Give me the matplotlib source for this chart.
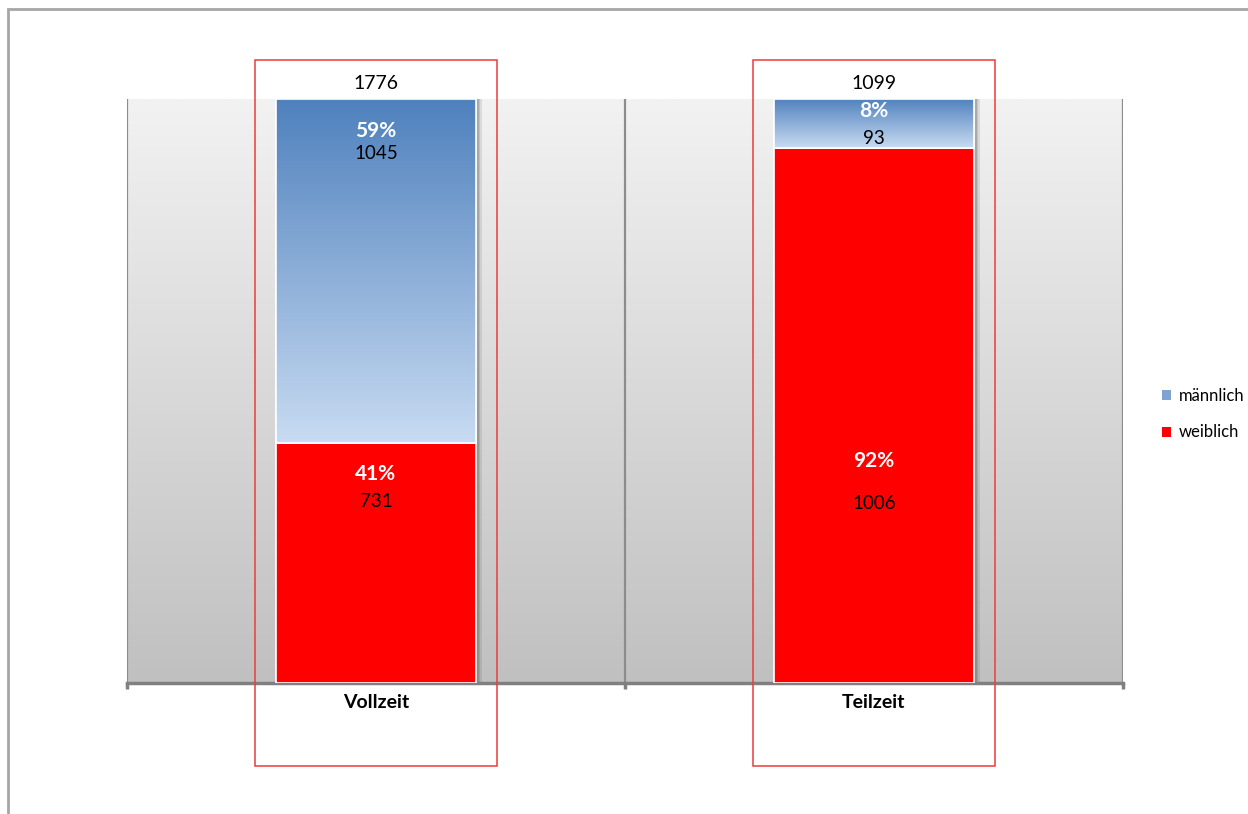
import numpy as np
import matplotlib.pyplot as plt
from matplotlib.patches import Rectangle, Patch
from matplotlib.colors import LinearSegmentedColormap

categories = ["Vollzeit", "Teilzeit"]
weiblich = [731, 1006]
maennlich = [1045, 93]
series_names = ["männlich", "weiblich"]

# label heights (share of the bar) for percent / count texts
pct_pos_m = [0.945, 0.979]
cnt_pos_m = [0.906, 0.932]
pct_pos_w = [0.358, 0.380]
cnt_pos_w = [0.310, 0.308]

plt.rcParams['font.family'] = ['Lato', 'DejaVu Sans']

totals = [w + m for w, m in zip(weiblich, maennlich)]
share_w = [w / t for w, t in zip(weiblich, totals)]
share_m = [m / t for m, t in zip(maennlich, totals)]

fig = plt.figure(figsize=(12.48, 8.14), dpi=100)
ax = fig.add_axes([127 / 1248, 1 - 683 / 814, 996 / 1248, 584 / 814])

x = np.arange(len(categories))
ax.set_xlim(-0.5, len(categories) - 0.5)
ax.set_ylim(0, 1)

# grey gradient background of the plot area
bg = np.linspace(0, 1, 256).reshape(-1, 1)
bg_cmap = LinearSegmentedColormap.from_list("bg", ["#c0c0c0", "#f2f2f2"])
ax.imshow(bg, cmap=bg_cmap, aspect="auto", origin="lower",
          extent=[-0.5, len(categories) - 0.5, 0, 1], zorder=0)

for xv in [-0.5, 0.5, 1.5]:
    ax.axvline(xv, color="#8c8c8c", lw=1.6, zorder=1)

width = 0.4
px = 1 / 498  # one pixel in x data units

# soft shadow right of each bar
for xi in x:
    for k, a in enumerate([0.55, 0.4, 0.25, 0.12]):
        ax.add_patch(Rectangle((xi + width / 2 + k * 1.5 * px, 0), 1.5 * px, 1,
                               color="#404040", alpha=a, lw=0, zorder=2))

bars_w = ax.bar(x, share_w, width, color="#ff0000", edgecolor="white",
                linewidth=1.2, zorder=3, label="weiblich")
bars_m = ax.bar(x, share_m, width, bottom=share_w, color="#7fa3d3",
                edgecolor="white", linewidth=1.2, zorder=3, label="männlich")

blue_cmap = LinearSegmentedColormap.from_list("blue", ["#c8dbf2", "#4f81bd"])
grad = np.linspace(0, 1, 256).reshape(-1, 1)
for b in bars_m:
    x0, y0 = b.get_x(), b.get_y()
    im = ax.imshow(grad, cmap=blue_cmap, aspect="auto", origin="lower",
                   extent=[x0, x0 + b.get_width(), y0, y0 + b.get_height()],
                   zorder=3.5)
    im.set_clip_path(b)
    ax.add_patch(Rectangle((x0, y0), b.get_width(), b.get_height(), fill=False,
                           edgecolor="white", lw=1.2, zorder=3.6))

for i in range(len(categories)):
    ax.text(x[i], pct_pos_m[i], f"{round(share_m[i] * 100)}%", ha="center",
            va="center", color="white", fontsize=15, fontweight="bold", zorder=5)
    ax.text(x[i], cnt_pos_m[i], str(maennlich[i]), ha="center", va="center",
            fontsize=13.5, zorder=5)
    ax.text(x[i], pct_pos_w[i], f"{round(share_w[i] * 100)}%", ha="center",
            va="center", color="white", fontsize=15, fontweight="bold", zorder=5)
    ax.text(x[i], cnt_pos_w[i], str(weiblich[i]), ha="center", va="center",
            fontsize=13.5, zorder=5)
    ax.text(x[i], 1.027, str(totals[i]), ha="center", va="center",
            fontsize=14, zorder=5)
    # red frame around each column
    ax.add_patch(Rectangle((x[i] - 0.243, -0.142), 0.486, 1.209, fill=False,
                           edgecolor="#ee3b3b", lw=1.1, clip_on=False, zorder=6))

for side in ["top", "right", "left"]:
    ax.spines[side].set_visible(False)
ax.spines["bottom"].set_color("#808080")
ax.spines["bottom"].set_linewidth(2.5)
ax.set_yticks([])
ax.set_xticks([-0.5, 0.5, 1.5])
ax.set_xticklabels([])
ax.tick_params(axis="x", length=4, width=2.5, color="#808080")
ax.set_xticks(x, minor=True)
ax.set_xticklabels(categories, minor=True, fontsize=14, fontweight="bold")
ax.tick_params(axis="x", which="minor", length=0, pad=8)

handles = [Patch(facecolor="#7fa3d3"), Patch(facecolor="#ff0000")]
fig.legend(handles, series_names, loc="center left",
           bbox_to_anchor=(1162 / 1248, 1 - 414 / 814), frameon=False,
           borderpad=0, borderaxespad=0,
           handlelength=0.55, handleheight=0.55, handletextpad=0.45,
           labelspacing=1.25, fontsize=12)

# outer chart border
fig.patches.append(Rectangle((8 / 1248, -0.05), 1.1, 1 - 9 / 814 + 0.05,
                             transform=fig.transFigure, fill=False,
                             edgecolor="#a6a6a6", lw=2))

fig.savefig("out.png", dpi=100)
